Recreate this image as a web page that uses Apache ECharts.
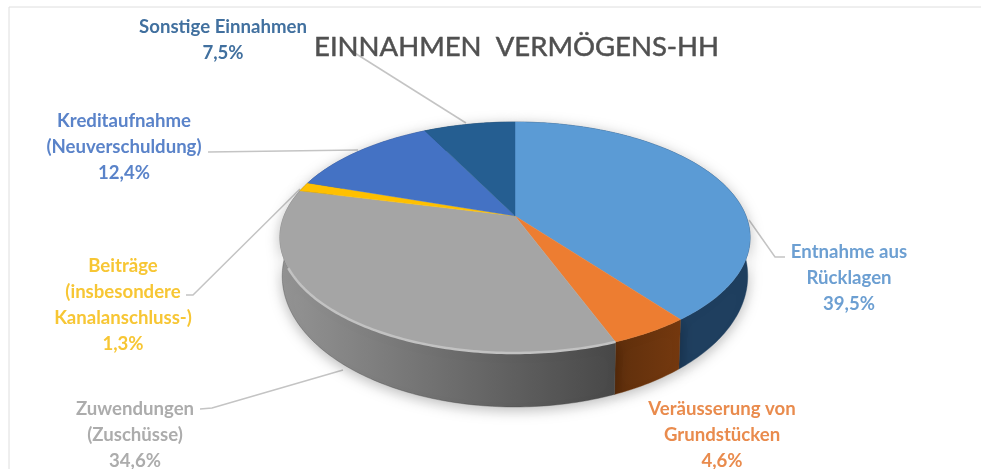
<!DOCTYPE html>
<html>
<head>
<meta charset="utf-8">
<style>
  html, body { margin: 0; padding: 0; background: #fff; }
  #chart { width: 981px; height: 469px; filter: blur(0.6px); }
</style>
<script src="https://cdn.jsdelivr.net/npm/echarts@6/dist/echarts.min.js"></script>
</head>
<body>
<div id="chart"></div>
<script>
// werte aus dem bild, reihenfolge im uhrzeigersinn ab 12 uhr
const categories = [
  'Entnahme aus\nRücklagen',
  'Veräusserung von\nGrundstücken',
  'Zuwendungen\n(Zuschüsse)',
  'Beiträge\n(insbesondere\nKanalanschluss-)',
  'Kreditaufnahme\n(Neuverschuldung)',
  'Sonstige Einnahmen'
];
const values = [39.5, 4.6, 34.6, 1.3, 12.4, 7.5];
const titleText = 'EINNAHMEN  VERMÖGENS-HH';

const topColors = ['#5b9bd5', '#ed7d31', '#a5a5a5', '#ffc000', '#4472c4', '#255e91'];
const sideColors = [
  ['#1f3f5f', '#1f3f5f'],
  ['#5f2f0c', '#75390f'],
  ['#949494', '#484848'],
  ['#997300', '#997300'],
  ['#294579', '#294579'],
  ['#163857', '#163857']
];
const labelColors = ['#6c9fd2', '#e98b4d', '#acacac', '#f7c634', '#5a83c9', '#41709f'];

// beschriftung und führungslinie je segment
const labelSpots = [
  {x: 849, y: 278, line: [[785, 257], [775, 257], [749, 220]]},
  {x: 722, y: 435, line: null},
  {x: 135, y: 435, line: [[200, 409], [212, 408], [343, 370]]},
  {x: 123, y: 305, line: [[186, 295], [193, 295], [300, 189]]},
  {x: 124, y: 147, line: [[208, 152], [358, 150]]},
  {x: 223, y: 40, line: [[350, 50], [466, 123]]}
];

// perspektive der oberseite: mitte der torte liegt über der ellipsenmitte
const cx = 515, cy = 216, persp = 0.186, scaleY = 111.5, scaleX = 231;
const total = values.reduce((s, v) => s + v, 0);

function topPoint(t) {
  const u = Math.sin(t), v = -Math.cos(t), w = 1 - persp * v;
  return [cx + scaleX * u / w, cy + scaleY * v / w];
}

function bottomPoint(t) {
  const p = topPoint(t);
  return [cx + (p[0] - cx) * 0.99, 276 + (p[1] - 237.5) * 131 / 115.5];
}

function sliceAngles(i) {
  let before = 0;
  for (let n = 0; n < i; n++) before += values[n];
  return [before / total * Math.PI * 2, (before + values[i]) / total * Math.PI * 2];
}

function arc(fn, a0, a1) {
  const pts = [];
  const steps = Math.max(4, Math.ceil((a1 - a0) * 60));
  for (let s = 0; s <= steps; s++) pts.push(fn(a0 + (a1 - a0) * s / steps));
  return pts;
}

function renderSide(params, api) {
  const i = params.dataIndex;
  const [a0, a1] = sliceAngles(i);
  const upper = arc(topPoint, a0, a1);
  const lower = arc(bottomPoint, a0, a1).reverse();
  const xs = upper.concat(lower).map(p => p[0]);
  const fill = new echarts.graphic.LinearGradient(
    Math.max.apply(null, xs), 0, Math.min.apply(null, xs), 0,
    [{offset: 0, color: sideColors[i][1]}, {offset: 1, color: sideColors[i][0]}],
    true
  );
  return {
    type: 'polygon',
    shape: {points: upper.concat(lower)},
    style: {fill: fill, stroke: sideColors[i][1], lineWidth: 0.4,
      shadowBlur: 14, shadowColor: 'rgba(0,0,0,0.28)', shadowOffsetY: 3}
  };
}

function renderTop(params, api) {
  const i = params.dataIndex;
  const [a0, a1] = sliceAngles(i);
  const rim = arc(topPoint, a0, a1);
  const children = [{
    type: 'polygon',
    shape: {points: [[cx, cy]].concat(rim)},
    style: {fill: topColors[i], stroke: topColors[i], lineWidth: 0.4}
  }];
  // heller grat nur an der vorderkante der grauen scheibe
  if (i === 2) {
    children.push({
      type: 'polyline',
      shape: {points: rim.filter(p => p[1] > 268)},
      style: {fill: null, stroke: '#c2c2c2', lineWidth: 2.5}
    });
  }
  return {type: 'group', children: children};
}

function renderLabel(params, api) {
  const i = params.dataIndex;
  const spot = labelSpots[i];
  const pct = api.value(0).toFixed(1).replace('.', ',') + '%';
  const children = [{
    type: 'text',
    style: {
      x: spot.x, y: spot.y,
      text: categories[i] + '\n' + pct,
      fill: labelColors[i],
      font: 'bold 18.6px Lato',
      lineHeight: 26,
      align: 'center',
      verticalAlign: 'middle'
    }
  }];
  if (spot.line) {
    children.unshift({
      type: 'polyline',
      shape: {points: spot.line},
      style: {fill: null, stroke: '#c4c4c4', lineWidth: 1.5}
    });
  }
  return {type: 'group', children: children};
}

const chart = echarts.init(document.getElementById('chart'));
chart.setOption({
  animation: false,
  backgroundColor: '#fff',
  title: {
    text: titleText,
    left: 309,
    top: 28,
    textStyle: {color: '#505050', fontFamily: 'Lato', fontWeight: 'normal', fontSize: 27.5,
      textBorderColor: '#505050', textBorderWidth: 0.5}
  },
  graphic: [{
    type: 'polyline',
    shape: {points: [[9, 469], [9, 7], [981, 7]]},
    style: {fill: null, stroke: '#dedede', lineWidth: 1}
  }],
  series: [
    {type: 'custom', coordinateSystem: 'none', z: 1, silent: true, data: values, renderItem: renderLabel},
    {type: 'custom', coordinateSystem: 'none', z: 2, silent: true, data: values, renderItem: renderSide},
    {type: 'custom', coordinateSystem: 'none', z: 3, silent: true, data: values, renderItem: renderTop}
  ]
});
</script>
</body>
</html>
